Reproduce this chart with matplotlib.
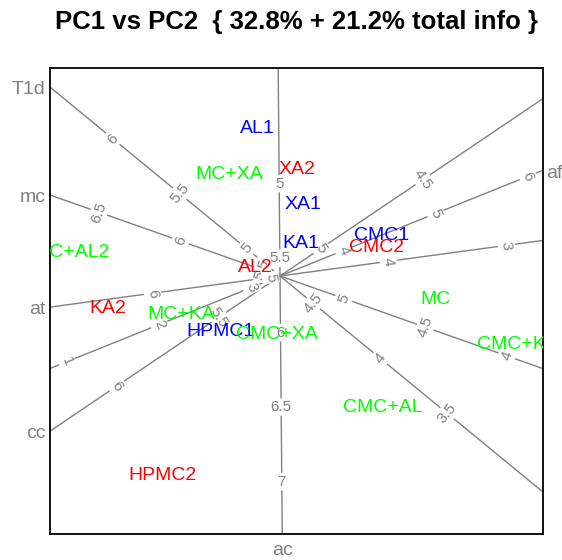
import numpy as np
import matplotlib.pyplot as plt

plt.rcParams["font.family"] = ["Liberation Sans", "DejaVu Sans"]

# calibrated biplot axes
var_names = ["T1d", "mc", "at", "cc", "af", "ac"]
var_angle = [140.6, 160.6, -172.3, -146.0, 21.9, -89.5]  # direction of increase, degrees
var_center = [4.75, 5.39, 4.92, 5.20, 3.31, 5.62]  # value at the origin
var_unit = [1.73, 1.73, 1.19, 2.46, 0.993, 1.49]  # plot units per unit of the variable
var_ticks = [
    [3.5, 4, 4.5, 5, 5.5, 6],
    [4, 4.5, 5, 5.5, 6, 6.5],
    [3, 4, 5, 6],
    [4.5, 5, 5.5, 6],
    [1, 2, 3, 4, 5, 6],
    [5, 5.5, 6, 6.5, 7],
]

# samples
names = ["AL1", "XA2", "MC+XA", "XA1", "KA1", "CMC1", "CMC2", "CMC+AL2", "AL2",
         "KA2", "MC", "MC+KA", "HPMC1", "CMC+XA", "CMC+KA", "CMC+AL", "HPMC2"]
pc1 = [-0.23, 0.17, -0.51, 0.23, 0.21, 1.02, 0.97, -2.16, -0.25,
       -1.72, 1.55, -0.99, -0.60, -0.03, 2.38, 1.03, -1.175]
pc2 = [1.47, 1.06, 1.01, 0.71, 0.32, 0.40, 0.28, 0.23, 0.08,
       -0.33, -0.24, -0.39, -0.56, -0.59, -0.69, -1.32, -2.00]
groups = ["1", "2", "mix", "1", "1", "1", "2", "mix", "2",
          "2", "mix", "mix", "1", "mix", "mix", "mix", "2"]
group_colors = {"1": "#0000FF", "2": "#FF0000", "mix": "#00FF00"}

xlim = (-2.30, 2.63)
ylim = (-2.58, 2.08)
gray = "#808080"

fig = plt.figure(figsize=(5.62, 5.60), dpi=100)
ax = fig.add_axes([50 / 562, 26 / 560, 493 / 562, 466 / 560])
ax.set_xlim(*xlim)
ax.set_ylim(*ylim)
ax.set_xticks([])
ax.set_yticks([])
for s in ax.spines.values():
    s.set_color("black")
    s.set_linewidth(1.3)

for name, ang, v0, unit, ticks in zip(var_names, var_angle, var_center, var_unit, var_ticks):
    a = np.radians(ang)
    dx, dy = np.cos(a), np.sin(a)
    ax.plot([-10 * dx, 10 * dx], [-10 * dy, 10 * dy], color=gray, lw=1, zorder=1)

    rot = (ang + 90) % 180
    if rot > 90:
        rot -= 180
    for v in ticks:
        t = (v - v0) * unit
        ax.text(t * dx, t * dy, f"{v:g}", color=gray, fontsize=11, rotation=rot,
                rotation_mode="anchor", ha="center", va="center", zorder=2,
                bbox=dict(fc="white", ec="none", pad=1.2))

    # where the axis leaves the box on its increasing side
    ts = []
    if dx > 1e-9:
        ts.append(xlim[1] / dx)
    if dx < -1e-9:
        ts.append(xlim[0] / dx)
    if dy > 1e-9:
        ts.append(ylim[1] / dy)
    if dy < -1e-9:
        ts.append(ylim[0] / dy)
    t_end = min(ts)
    ex, ey = t_end * dx, t_end * dy
    if abs(ex - xlim[0]) < 1e-6:
        off, ha, va = (-3, -2), "right", "center"
    elif abs(ex - xlim[1]) < 1e-6:
        off, ha, va = (2, -2), "left", "center"
    elif abs(ey - ylim[0]) < 1e-6:
        off, ha, va = (0, -6), "center", "top"
    else:
        off, ha, va = (0, 5), "center", "bottom"
    ax.annotate(name, (ex, ey), xytext=off, textcoords="offset points",
                ha=ha, va=va, color=gray, fontsize=14, annotation_clip=False)

for n, x, y, g in zip(names, pc1, pc2, groups):
    ax.text(x, y, n, color=group_colors[g], fontsize=14, ha="center", va="center",
            zorder=3, clip_on=True)

fig.text(0.527, 0.961, "PC1 vs PC2  { 32.8% + 21.2% total info }",
         ha="center", va="center", fontsize=18.5, fontweight="bold")

fig.savefig("out.png", dpi=100)
